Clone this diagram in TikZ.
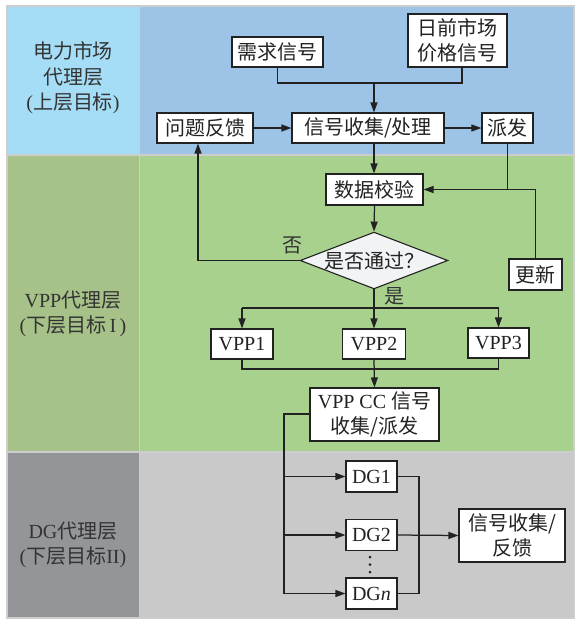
\documentclass[tikz,border=0pt]{standalone}
\usepackage{fontspec}
\setmainfont{Liberation Serif}
\newfontfamily\cjk{Noto Sans CJK SC}
\usetikzlibrary{arrows.meta,shapes.geometric}
\definecolor{ltop}{HTML}{A6DDF6}
\definecolor{rtop}{HTML}{9DC3E6}
\definecolor{lmid}{HTML}{A6C289}
\definecolor{rmid}{HTML}{A9D18E}
\definecolor{lbot}{HTML}{939598}
\definecolor{rbot}{HTML}{C9C9C9}
\definecolor{sep}{HTML}{CDCDCD}
\definecolor{ink}{HTML}{222222}
\definecolor{dfill}{HTML}{F2F3F5}
\begin{document}
\begin{tikzpicture}[x=1pt,y=-1pt,
  box/.style={draw=ink, fill=white, line width=1.1pt, inner sep=1pt, minimum height=30pt, align=center, font=\fontsize{20}{25}\selectfont, text=ink},
  dia/.style={diamond, aspect=2.6, draw=ink, fill=dfill, line width=1.1pt, inner sep=0pt, minimum width=144pt, minimum height=55pt, font=\fontsize{20}{25}\selectfont, text=ink},
  band/.style={draw=sep, line width=1.5pt},
  lab/.style={align=center, font=\fontsize{20}{25.5}\selectfont, text=black!80},
  elab/.style={font=\fontsize{20}{24}\selectfont, text=black!80},
  ln/.style={draw=ink, line width=1.25pt},
  arr/.style={ln, -{Triangle[length=10pt,width=7pt]}}]
\useasboundingbox (0,0) rectangle (574,619);
% bands
\fill[white] (0,0) rectangle (574,619);
\path[band, fill=ltop] (7,6) rectangle (139.5,155);
\path[band, fill=rtop] (139.5,6) rectangle (574,155);
\path[band, fill=lmid] (7,155) rectangle (139.5,452);
\path[band, fill=rmid] (139.5,155) rectangle (574,452);
\path[band, fill=lbot] (7,452) rectangle (139.5,618);
\path[band, fill=rbot] (139.5,452) rectangle (574,618);
% layer labels
\node[lab] (l1) at (73,78) {{\cjk 电力市场}\\{\cjk 代理层}\\({\cjk 上层目标})};
\node[lab] (l2) at (73,314) {VPP{\cjk 代理层}\\({\cjk 下层目标}\,I\,)};
\node[lab] (l3) at (73,545) {DG{\cjk 代理层}\\({\cjk 下层目标}II)};
% nodes
\node[box, minimum width=91pt] (need) at (277.5,52) {\cjk 需求信号};
\node[box, minimum width=99pt, minimum height=53pt] (price) at (457.5,40.5) {{\cjk 日前市场}\\{\cjk 价格信号}};
\node[box, minimum width=152pt] (proc) at (368,128) {\cjk 信号收集/处理};
\node[box, minimum width=96pt] (fb) at (205,128) {\cjk 问题反馈};
\node[box, minimum width=51pt] (disp) at (507.5,128) {\cjk 派发};
\node[box, minimum width=97pt, minimum height=31pt] (check) at (374.5,189.5) {\cjk 数据校验};
\node[dia] (pass) at (374,260.5) {\cjk 是否通过？};
\node[box, minimum width=53pt, minimum height=31pt] (upd) at (535.5,274.5) {\cjk 更新};
\node[box, minimum width=62pt] (vpp1) at (242,344) {VPP1};
\node[box, minimum width=63pt] (vpp2) at (374,344) {VPP2};
\node[box, minimum width=61pt] (vpp3) at (498.5,343) {VPP3};
\node[box, minimum width=129pt, minimum height=53pt] (cc) at (374.5,414.5) {VPP CC {\cjk 信号}\\{\cjk 收集/派发}};
\node[box, minimum width=51pt, minimum height=31pt] (dg1) at (371.5,476.5) {DG1};
\node[box, minimum width=51pt, minimum height=31pt] (dg2) at (371.5,535) {DG2};
\node[box, minimum width=51pt, minimum height=31pt] (dgn) at (371.5,593.5) {DG\textit{n}};
\node[box, minimum width=106pt, minimum height=53pt] (fb2) at (512,535.5) {{\cjk 信号收集/}\\{\cjk 反馈}};
\node[elab] (no) at (292,245) {\cjk 否};
\node[elab] (yes) at (394,296) {\cjk 是};
% dots
\foreach \yy in {557,564.5,572} \fill[ink] (370,\yy) circle (1.5pt);
% coordinates
\coordinate (j1) at (374,83);
\coordinate (jx) at (198,260.5);
\coordinate (jy) at (374,308);
\coordinate (cx) at (284,414);
\coordinate (dx) at (419,476.5);
% top connectors
\draw[ln] (need.south) |- (j1);
\draw[ln] (price.south -| 462,0) |- (j1);
\draw[arr] (j1) -- (j1 |- proc.north);
\draw[arr] (fb.east) -- (proc.west);
\draw[arr] (proc.east) -- (disp.west);
\draw[arr] (j1 |- proc.south) -- (j1 |- check.north);
\draw[arr] (upd.north) |- (check.east);
\draw[ln] (disp.south) -- (disp.south |- check.east);
\draw[arr] (check.south) -- (pass.north);
\draw[arr] (pass.west) -- (jx) -- (jx |- fb.south);
% VPP connectors
\draw[arr] (pass.south) -- (vpp2.north);
\draw[arr] (vpp1.north |- jy) -- (vpp1.north);
\draw[arr] (vpp3.north |- jy) -- (vpp3.north);
\draw[ln] (vpp1.north |- jy) -- (vpp3.north |- jy);
\draw[ln] (vpp1.south) -- (vpp1.south |- 0,369) -| (vpp3.south);
\draw[arr] (vpp2.south) -- (cc.north);
% DG connectors
\draw[ln] (cc.west |- cx) -- (cx) -- (cx |- dgn.west);
\draw[arr] (cx |- dg1.west) -- (dg1.west);
\draw[arr] (cx |- dg2.west) -- (dg2.west);
\draw[arr] (cx |- dgn.west) -- (dgn.west);
\draw[ln] (dg1.east) -- (dx) -- (dx |- dgn.east) -- (dgn.east);
\draw[arr] (dg2.east) -- (fb2.west);
\end{tikzpicture}
\end{document}
